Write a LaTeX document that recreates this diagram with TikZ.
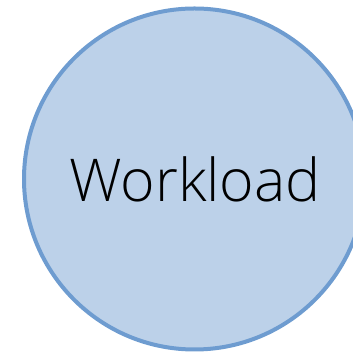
\documentclass[tikz,border=0pt]{standalone}
\usepackage{fontspec}
\setmainfont{Open Sans Light}
\definecolor{loadfill}{RGB}{188,209,233}
\definecolor{loadline}{RGB}{110,156,208}
\tikzset{loadcircle/.style={circle, draw=loadline, fill=loadfill, line width=4pt, minimum size=341pt, inner sep=0pt}}

\begin{document}
\begin{tikzpicture}[x=1pt,y=1pt]
        \useasboundingbox (0,0) rectangle (353,352);
        \begin{scope}
        \clip (0,0) rectangle (353,352);
        \node[loadcircle] (workload) at (194.5,173) {};
        \end{scope}
        \node[anchor=base, font=\fontsize{59}{68}\selectfont] (label) at (195,150) {Workload};
    \end{tikzpicture}
\end{document}
